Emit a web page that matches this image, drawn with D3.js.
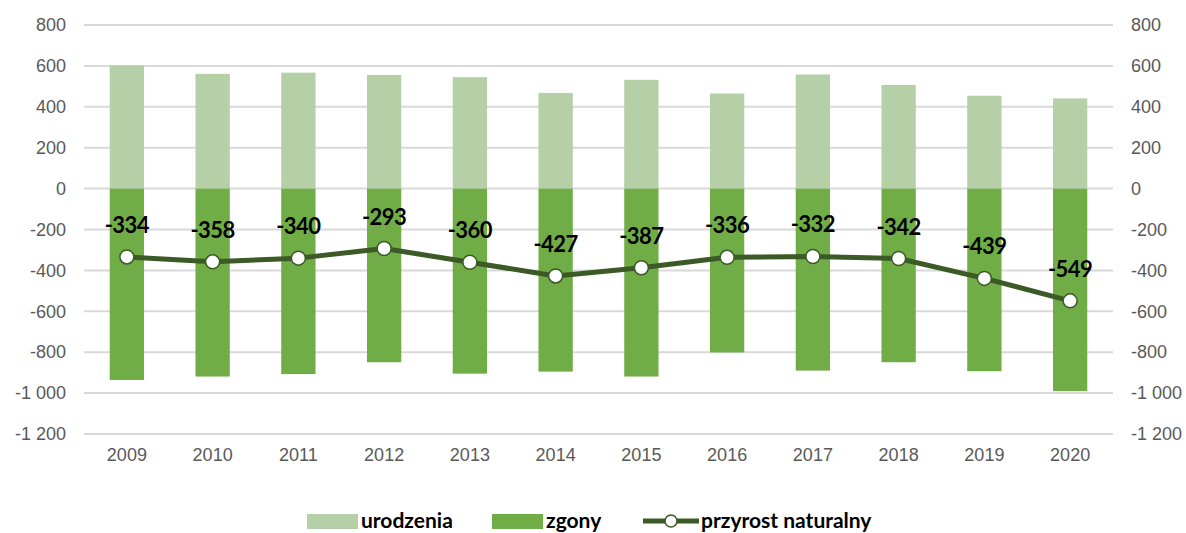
<!DOCTYPE html>
<html>
<head>
<meta charset="utf-8">
<script src="https://cdn.jsdelivr.net/npm/d3@7"></script>
<style>
  body { margin: 0; background: #fff; }
  svg { display: block; font-family: Lato, "Open Sans", sans-serif; }
  .tick text { fill: #595959; font-size: 18px; }
  .grid line { stroke: #d9d9d9; stroke-width: 2; }
  .label { font-weight: bold; font-size: 22px; fill: #000; letter-spacing: -0.5px; }
  .legend text { font-weight: bold; font-size: 21px; fill: #000; }
</style>
</head>
<body>
<div id="chart"></div>
<script>
// Data
const years = ['2009','2010','2011','2012','2013','2014','2015','2016','2017','2018','2019','2020']
const urodzenia = [602, 561, 567, 556, 545, 468, 532, 465, 558, 507, 454, 441]
const zgony = [-936, -919, -907, -849, -905, -895, -919, -801, -890, -849, -893, -990]
const przyrost = [-334, -358, -340, -293, -360, -427, -387, -336, -332, -342, -439, -549]
const yTicks = [800, 600, 400, 200, 0, -200, -400, -600, -800, -1000, -1200]

const width = 1186
const height = 533
const plotLeft = 84
const plotRight = 1113
const plotTop = 25
const plotBottom = 434

const colors = { urodzenia: '#b5cfa7', zgony: '#70ad47', line: '#3b5a25' }

const svg = d3.select('#chart').append('svg')
    .attr('width', width)
    .attr('height', height)

// Scales
const xScale = d3.scaleBand()
    .domain(years)
    .range([plotLeft, plotRight])
    .paddingInner(0.6)
    .paddingOuter(0.3)

const yScale = d3.scaleLinear()
    .domain([-1200, 800])
    .range([plotBottom, plotTop])

// Polish style: space as thousands separator, plain hyphen for minus
const plLocale = d3.formatLocale({ decimal: ',', thousands: '\u00a0', grouping: [3], currency: ['', ' zł'], minus: '-' })
const fmt = plLocale.format(',')

// Gridlines
svg.append('g')
    .classed('grid', true)
    .selectAll('line')
    .data(yTicks)
    .enter()
    .append('line')
    .attr('x1', plotLeft)
    .attr('x2', plotRight)
    .attr('y1', d => yScale(d))
    .attr('y2', d => yScale(d))

// Axes
const yAxisLeft = d3.axisLeft(yScale).tickValues(yTicks).tickFormat(fmt).tickSize(0).tickPadding(18)
const yAxisRight = d3.axisRight(yScale).tickValues(yTicks).tickFormat(fmt).tickSize(0).tickPadding(18)
const xAxis = d3.axisBottom(xScale).tickSize(0).tickPadding(14)

svg.append('g').attr('id', 'y-axis-left')
    .attr('transform', 'translate(' + plotLeft + ',0)')
    .call(yAxisLeft)
svg.append('g').attr('id', 'y-axis-right')
    .attr('transform', 'translate(' + plotRight + ',0)')
    .call(yAxisRight)
svg.append('g').attr('id', 'x-axis')
    .attr('transform', 'translate(0,' + plotBottom + ')')
    .call(xAxis)
svg.selectAll('.domain').remove()

// Bars
svg.append('g').selectAll('rect')
    .data(urodzenia)
    .enter()
    .append('rect')
    .attr('x', (_, i) => xScale(years[i]))
    .attr('width', xScale.bandwidth())
    .attr('y', d => yScale(d))
    .attr('height', d => yScale(0) - yScale(d))
    .style('fill', colors.urodzenia)

svg.append('g').selectAll('rect')
    .data(zgony)
    .enter()
    .append('rect')
    .attr('x', (_, i) => xScale(years[i]))
    .attr('width', xScale.bandwidth())
    .attr('y', yScale(0))
    .attr('height', d => yScale(d) - yScale(0))
    .style('fill', colors.zgony)

// Line
const cx = i => xScale(years[i]) + xScale.bandwidth() / 2
const line = d3.line()
    .x((_, i) => cx(i))
    .y(d => yScale(d))

svg.append('path')
    .datum(przyrost)
    .attr('d', line)
    .style('fill', 'none')
    .style('stroke', colors.line)
    .style('stroke-width', 5)
    .style('stroke-linejoin', 'round')

svg.append('g').selectAll('circle')
    .data(przyrost)
    .enter()
    .append('circle')
    .attr('cx', (_, i) => cx(i))
    .attr('cy', d => yScale(d))
    .attr('r', 7)
    .style('fill', '#fff')
    .style('stroke', colors.line)
    .style('stroke-width', 1.5)

// Data labels
svg.append('g').selectAll('text')
    .data(przyrost)
    .enter()
    .append('text')
    .classed('label', true)
    .attr('x', (_, i) => cx(i))
    .attr('y', d => yScale(d) - 24)
    .attr('text-anchor', 'middle')
    .text(d => fmt(d))

// Legend
const legend = svg.append('g').classed('legend', true)
const legendY = 521

legend.append('rect').attr('x', 307).attr('y', legendY - 7).attr('width', 51).attr('height', 15).style('fill', colors.urodzenia)
legend.append('text').attr('x', 361).attr('y', legendY).attr('dy', '0.35em').text('urodzenia')

legend.append('rect').attr('x', 492).attr('y', legendY - 7).attr('width', 51).attr('height', 15).style('fill', colors.zgony)
legend.append('text').attr('x', 546).attr('y', legendY).attr('dy', '0.35em').text('zgony')

legend.append('line').attr('x1', 643).attr('x2', 699).attr('y1', legendY).attr('y2', legendY)
    .style('stroke', colors.line).style('stroke-width', 5)
legend.append('circle').attr('cx', 671).attr('cy', legendY).attr('r', 6)
    .style('fill', '#fff').style('stroke', colors.line).style('stroke-width', 1.5)
legend.append('text').attr('x', 701).attr('y', legendY).attr('dy', '0.35em').text('przyrost naturalny')
</script>
</body>
</html>
